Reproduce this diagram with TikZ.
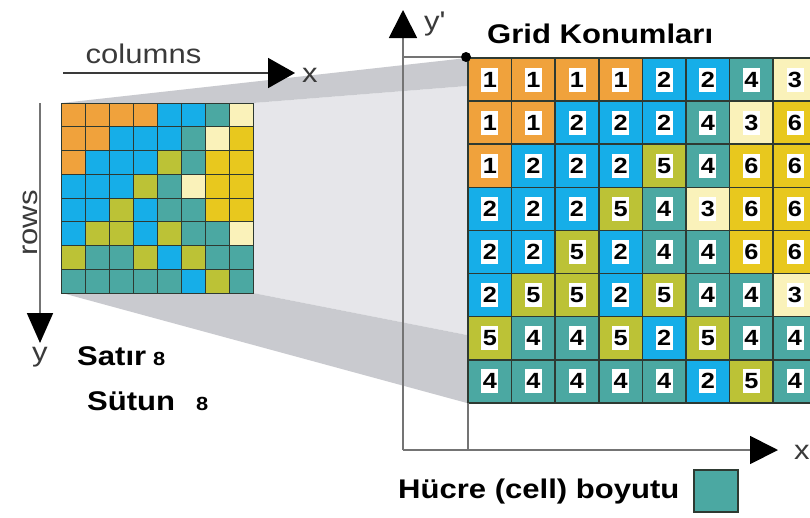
\documentclass[tikz,border=0pt]{standalone}
\usepackage{fontspec}
\setmainfont[FakeStretch=1.15]{Liberation Sans}
\usetikzlibrary{arrows.meta}
\definecolor{c1}{HTML}{F0A23C}
\definecolor{c2}{HTML}{16AEE8}
\definecolor{c3}{HTML}{FAF2BA}
\definecolor{c4}{HTML}{4BA8A2}
\definecolor{c5}{HTML}{BCC236}
\definecolor{c6}{HTML}{E8C81E}
\definecolor{gridline}{HTML}{2E3A32}
\definecolor{facedark}{HTML}{C9CACF}
\definecolor{facelight}{HTML}{E6E6EA}
\definecolor{axisgray}{HTML}{747474}
\definecolor{labelgray}{HTML}{3A3A3A}
\begin{document}
\begin{tikzpicture}[x=1pt,y=-1pt,
  bigcell/.style={draw=gridline,line width=1.6pt,minimum width=43.6pt,minimum height=43.1pt,inner sep=0pt,outer sep=0pt},
  smallcell/.style={draw=gridline,line width=1pt,minimum width=23.9pt,minimum height=23.75pt,inner sep=0pt,outer sep=0pt},
  numbox/.style={fill=white,minimum width=17pt,minimum height=24pt,inner sep=0pt,font=\bfseries\fontsize{22}{22}\selectfont},
  axisline/.style={draw=axisgray,line width=1.8pt},
  bigtip/.style={-{Triangle[length=28pt,width=28pt,color=black]}},
  graylabel/.style={text=labelgray,font=\fontsize{27}{27}\selectfont,inner sep=0pt},
  boldlabel/.style={text=black,font=\bfseries\fontsize{27}{27}\selectfont,inner sep=0pt}]
\useasboundingbox (0,0) rectangle (810,517);
\clip (0,0) rectangle (810,517);
\fill[white] (0,0) rectangle (810,517);
% projection faces
\fill[facelight] (253,103) -- (467,86) -- (467,335) -- (253,293) -- cycle;
\fill[facedark] (62,103) -- (253,103) -- (467,86) -- (467,58) -- cycle;
\fill[facedark] (62,293) -- (253,293) -- (467,335) -- (467,403) -- cycle;
% axes of the big grid
\coordinate (origin) at (403,450);
\coordinate (ytop) at (403,10);
\coordinate (xend) at (778,450);
\coordinate (ylevel) at (403,57);
\coordinate (gridfoot) at (468,450);
\draw[axisline,bigtip] (origin) -- (ytop);
\draw[axisline,bigtip] (origin) -- (xend);
% columns / rows arrows
\coordinate (colstart) at (63,73);
\coordinate (colend) at (295,73);
\coordinate (rowstart) at (40,103);
\coordinate (rowend) at (40,343);
\draw[draw=labelgray,line width=1.8pt,-{Triangle[length=27pt,width=30pt,color=black]}] (colstart) -- (colend);
\draw[axisline,-{Triangle[length=30pt,width=26pt,color=black]}] (rowstart) -- (rowend);
% grids
\foreach \row [count=\r from 0] in {{1,1,1,1,2,2,4,3},{1,1,2,2,2,4,3,6},{1,2,2,2,5,4,6,6},{2,2,2,5,4,3,6,6},{2,2,5,2,4,4,6,6},{2,5,5,2,5,4,4,3},{5,4,4,5,2,5,4,4},{4,4,4,4,4,2,5,4}}{
  \foreach \v [count=\c from 0] in \row {
    \node[smallcell,fill=c\v] (S\r\c) at (62+23.875*\c+11.94, 103+23.75*\r+11.875) {};
    \node[bigcell,fill=c\v] (B\r\c) at (468+43.6*\c+21.8, 58+43.1*\r+21.55) {};
    \node[numbox] (N\r\c) at (B\r\c) {\v};
  }
}
\draw[axisline,line width=1.5pt] (B70.south west) -- (gridfoot);
\node[circle,fill=black,minimum size=10pt,inner sep=0pt] (dot) at (466,57) {};
\draw[axisline,line width=1.5pt] (ylevel) -- (dot);
% labels
\node[graylabel,anchor=base] (columns) at (143.5,63) {columns};
\node[graylabel,anchor=base] (xl) at (310,82) {x};
\node[graylabel,anchor=base,rotate=90] (rows) at (37,223) {rows};
\node[graylabel,anchor=base] (yl) at (40,361) {y};
\node[graylabel,anchor=base west] (yp) at (424,30) {y\textquotesingle};
\node[graylabel,anchor=base west] (xb) at (794,459) {x};
\node[boldlabel,anchor=base west] (title) at (487,43) {Grid Konumları};
\node[boldlabel,anchor=base west] (satir) at (77,365) {Satır\hspace{7pt}{\fontsize{19}{19}\selectfont 8}};
\node[boldlabel,anchor=base west] (sutun) at (87,410) {Sütun\hspace{21pt}{\fontsize{19}{19}\selectfont 8}};
\node[boldlabel,anchor=base west] (hucre) at (398,498) {Hücre (cell) boyutu};
\node[draw=gridline,line width=1.2pt,fill=c4,minimum width=44pt,minimum height=42pt,inner sep=0pt] (cellsize) at (716,491) {};
\end{tikzpicture}
\end{document}
